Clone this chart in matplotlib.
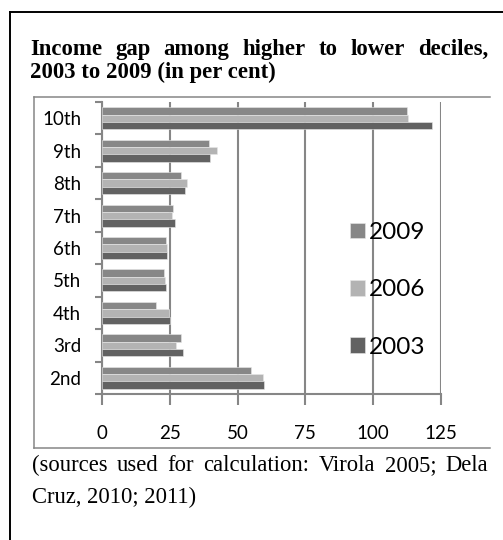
import numpy as np
import matplotlib
matplotlib.use('Agg')
from matplotlib import pyplot as plt
from matplotlib.lines import Line2D

# data, top to bottom as in the chart
deciles = ['10th', '9th', '8th', '7th', '6th', '5th', '4th', '3rd', '2nd']
gap_2009 = [112.5, 39.3, 29.3, 26.0, 23.5, 22.8, 19.9, 29.0, 54.9]
gap_2006 = [112.9, 42.3, 31.2, 25.7, 23.9, 23.4, 24.6, 27.4, 59.3]
gap_2003 = [121.5, 39.8, 30.5, 26.8, 24.1, 23.6, 25.0, 29.7, 59.7]
years = ['2009', '2006', '2003']
x_ticks = [0, 25, 50, 75, 100, 125]

title_lines = ['Income gap among higher to lower deciles,',
               '2003 to 2009 (in per cent)']
note_lines = ['(sources used for calculation: Virola 2005; Dela',
              'Cruz, 2010; 2011)']

W, H = 503, 540
GRAY = '#868686'


def fx(x):
    return x / W


def fy(y):
    return 1 - y / H


def justified_line(fig, text, x0, x1, y, **kw):
    # spread the words of one line between x0 and x1 (pixels)
    words = text.split()
    renderer = fig.canvas.get_renderer()
    items = [fig.text(0, fy(y), w, va='baseline', **kw) for w in words]
    widths = [t.get_window_extent(renderer).width for t in items]
    gap = (x1 - x0 - sum(widths)) / (len(words) - 1)
    x = x0
    for t, w in zip(items, widths):
        t.set_x(fx(x))
        x += w + gap


fig = plt.figure(figsize=(W / 100, H / 100), dpi=100, facecolor='w')
ax = fig.add_axes([fx(102), fy(394), fx(441) - fx(102), fy(102) - fy(394)])

sans = ['Lato', 'DejaVu Sans']
serif = ['Liberation Serif', 'DejaVu Serif']

y = np.arange(len(deciles))
bh = 0.225
series = [(gap_2009, '#878787', -bh), (gap_2006, '#b3b3b3', 0.0), (gap_2003, '#626262', bh)]
handles = []
for (vals, col, off), yr in zip(series, years):
    b = ax.barh(y + off, vals, height=bh, color=col, edgecolor='#e8e8e8',
                linewidth=0.4, label=yr, zorder=3)
    handles.append(b)

ax.set_xlim(0, 125)
ax.set_ylim(len(deciles) - 0.5, -0.5)

# category boundaries as ticks, labels at the centres
ax.set_yticks(np.arange(len(deciles) + 1) - 0.5)
ax.set_yticklabels([])
ax.set_yticks(y, minor=True)
ax.set_yticklabels(deciles, minor=True, fontsize=13.5, family=sans)
ax.tick_params(axis='y', which='major', length=5, width=1.5, color=GRAY, direction='out')
ax.tick_params(axis='y', which='minor', length=0, pad=15)

ax.set_xticks(x_ticks)
ax.set_xticklabels([str(v) for v in x_ticks], fontsize=13.5, family=sans)
ax.tick_params(axis='x', length=8, width=1.5, color=GRAY, direction='out', pad=14)

ax.grid(axis='x', color=GRAY, linewidth=1.5, zorder=0)
ax.set_axisbelow(True)
for side in ['top', 'right']:
    ax.spines[side].set_visible(False)
for side in ['left', 'bottom']:
    ax.spines[side].set_color(GRAY)
    ax.spines[side].set_linewidth(1.5)

ax.legend(handles=handles, loc='upper left', bbox_to_anchor=(fx(350), fy(222)),
          bbox_transform=fig.transFigure, frameon=False, borderpad=0, borderaxespad=0,
          handlelength=0.62, handleheight=0.62, handletextpad=0.15, labelspacing=1.5,
          prop={'family': sans, 'size': 17.5})

# outer frame and chart frame
fig.add_artist(Line2D([fx(10), fx(10)], [fy(12), fy(540)], color='k', lw=1.4))
fig.add_artist(Line2D([fx(10), fx(503)], [fy(12), fy(12)], color='k', lw=1.4))
fig.add_artist(Line2D([fx(34), fx(34)], [fy(97), fy(448)], color=GRAY, lw=1.1))
fig.add_artist(Line2D([fx(34), fx(490)], [fy(97), fy(97)], color=GRAY, lw=1.1))
fig.add_artist(Line2D([fx(34), fx(490)], [fy(448), fy(448)], color=GRAY, lw=1.1))

# title and note
justified_line(fig, title_lines[0], 30, 488, 55, family=serif, fontsize=16.4, weight='bold')
fig.text(fx(30), fy(78), title_lines[1], va='baseline', family=serif, fontsize=16.4,
         weight='bold')
justified_line(fig, note_lines[0], 32, 488, 471, family=serif, fontsize=16.3)
fig.text(fx(32), fy(503), note_lines[1], va='baseline', family=serif, fontsize=16.3)

fig.savefig('out.png', dpi=100, facecolor='w')
